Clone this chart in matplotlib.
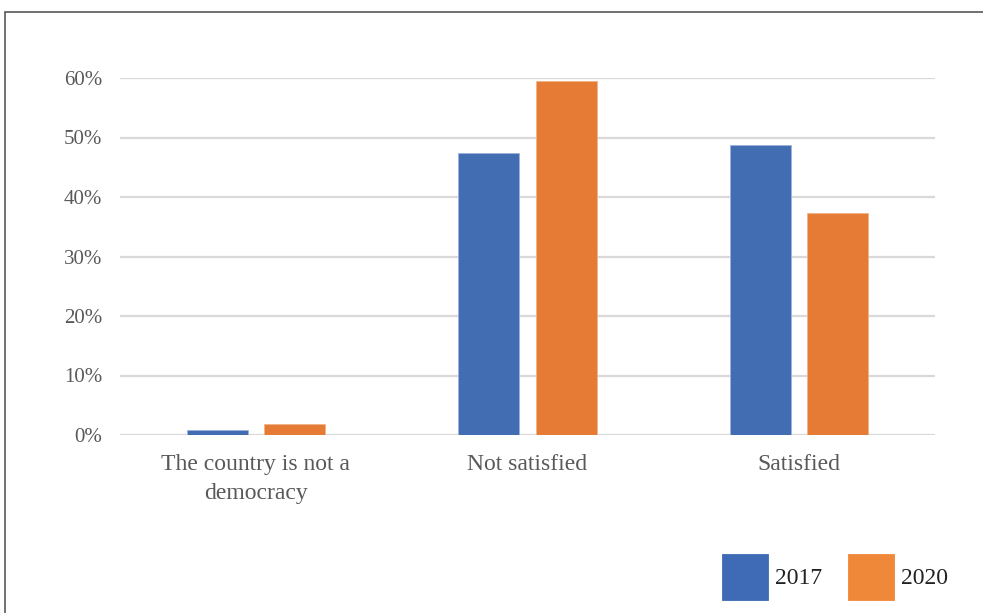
import matplotlib.pyplot as plt
import numpy as np
from matplotlib.patches import Rectangle
from matplotlib.ticker import PercentFormatter

categories = ["The country is not a\ndemocracy", "Not satisfied", "Satisfied"]
years = ["2017", "2020"]
values_2017 = [0.9, 47.4, 48.7]
values_2020 = [1.8, 59.5, 37.3]
y_ticks = [0, 10, 20, 30, 40, 50, 60]

colors = ["#426DB3", "#E57B34"]

plt.rcParams["font.family"] = ["Liberation Serif", "DejaVu Serif"]

W, H = 983, 613
fig = plt.figure(figsize=(W / 100, H / 100), dpi=100)
ax = fig.add_axes([120 / W, 1 - 435 / H, 815 / W, (435 - 78) / H])

x = np.arange(len(categories))
width = 0.225
offset = 0.142
b1 = ax.bar(x - offset, values_2017, width, color=colors[0], edgecolor="#9DB3DA", linewidth=0.6, label=years[0], zorder=3)
b2 = ax.bar(x + offset, values_2020, width, color=colors[1], edgecolor="#F2B48A", linewidth=0.6, label=years[1], zorder=3)

ax.set_xlim(-0.5, 2.5)
ax.set_ylim(0, 60)
ax.set_yticks(y_ticks)
ax.yaxis.set_major_formatter(PercentFormatter(decimals=0))
ax.grid(axis="y", color="#D9D9D9", linewidth=1.6, zorder=0)
for s in ax.spines.values():
    s.set_visible(False)
ax.tick_params(axis="both", length=0, colors="#595959")
ax.tick_params(axis="y", pad=13, labelsize=15)
ax.tick_params(axis="x", pad=14, labelsize=17)
ax.set_xticks(x)
ax.set_xticklabels(categories, linespacing=1.45)

leg_colors = ["#3F6AB5", "#F0883A"]
leg = fig.legend(handles=[b1, b2], labels=years, loc="center left",
                 bbox_to_anchor=(722 / W, 1 - 577 / H), frameon=False, ncol=2,
                 fontsize=17, handlelength=1.95, handleheight=2.6, handletextpad=0.3,
                 columnspacing=1.1, borderpad=0, borderaxespad=0)
for patch, c in zip(leg.get_patches(), leg_colors):
    patch.set_facecolor(c)
    patch.set_edgecolor(c)
for t in leg.get_texts():
    t.set_color("#222222")

fig.add_artist(Rectangle((5 / W, -0.1), 1.2, 1 - 12 / H + 0.1, transform=fig.transFigure,
                         fill=False, edgecolor="#595959", linewidth=1.2))

fig.savefig("out.png", dpi=100)
